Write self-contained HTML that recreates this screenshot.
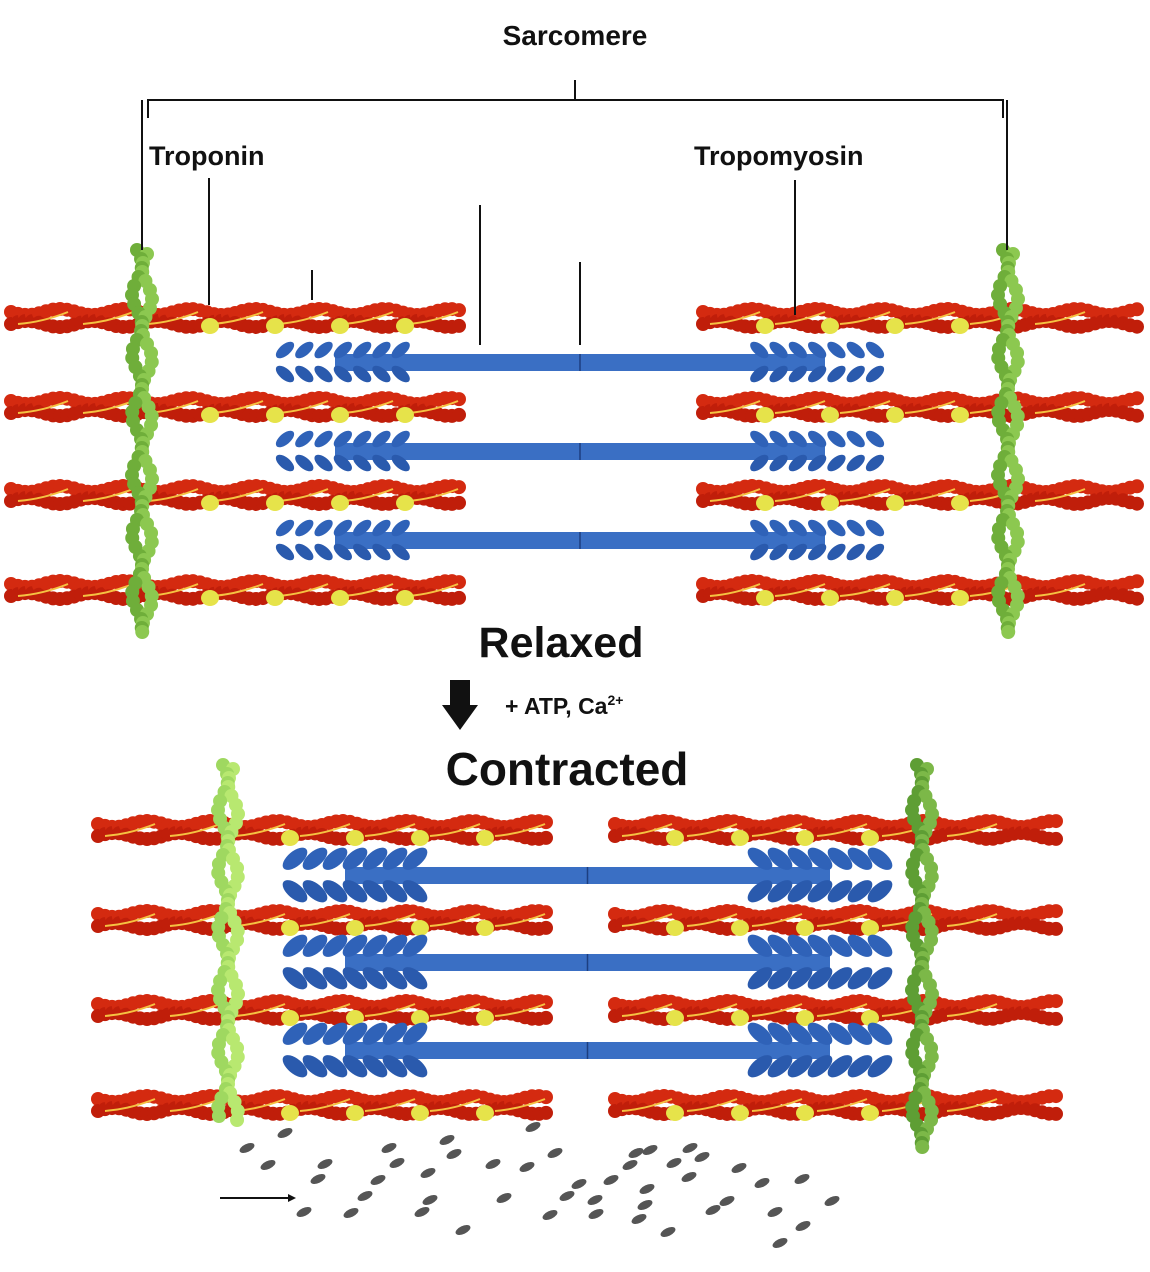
<!DOCTYPE html>
<html><head><meta charset="utf-8"><style>
html,body{margin:0;padding:0;background:#fff;}
svg{display:block}
text{font-family:"Liberation Sans",sans-serif;font-weight:bold;fill:#111}
</style></head><body>
<svg id="s" width="1150" height="1272" viewBox="0 0 1150 1272" xmlns="http://www.w3.org/2000/svg">
<rect width="1150" height="1272" fill="#fff"/>
<g id="g"></g>
<g stroke="#111" stroke-width="2" fill="none">
<path d="M148 118 V100 H1003 V118 M575 100 V80"/>
<path d="M142 100 V250 M1007 100 V250 M209 178 V305 M312 270 V300 M480 205 V345 M580 262 V345 M795 180 V315"/>
<path d="M220 1198 H288"/>
</g>
<polygon points="288,1194 296,1198 288,1202" fill="#111"/>
<text x="575" y="45" font-size="28" text-anchor="middle">Sarcomere</text>
<text x="149" y="165" font-size="27">Troponin</text>
<text x="694" y="165" font-size="27">Tropomyosin</text>
<text x="561" y="657" font-size="43" text-anchor="middle">Relaxed</text>
<polygon points="450,680 470,680 470,705 478,705 460,730 442,705 450,705" fill="#111"/>
<text x="505" y="714" font-size="23">+ ATP, Ca<tspan font-size="14" dy="-9">2+</tspan></text>
<text x="567" y="785" font-size="46" text-anchor="middle">Contracted</text>
</svg>
<script>
var g=document.getElementById('g'),h='';
function actin(x1,x2,y,trop){
  for(var x=x1;x<x2;x+=7){
    var p=(x-x1)/65*2*Math.PI;
    h+='<circle cx="'+(x+3)+'" cy="'+(y-6+3*Math.sin(p))+'" r="7" fill="#d42a10"/>';
    h+='<circle cx="'+(x+3)+'" cy="'+(y+6-3*Math.sin(p))+'" r="7" fill="#c01e0a"/>';
  }
  for(var x=x1;x+60<=x2;x+=65){
    h+='<path d="M'+(x+10)+' '+(y+6)+' Q'+(x+35)+' '+(y+4)+' '+(x+60)+' '+(y-6)+'" stroke="#f5c242" stroke-width="2" fill="none"/>';
  }
  trop.forEach(function(t){h+='<ellipse cx="'+t+'" cy="'+(y+8)+'" rx="9" ry="8" fill="#e6e34a"/>';});
}
function zdisc(x,y1,y2,c1,c2){
  for(var y=y1;y<y2;y+=9){
    var o=5*Math.sin((y-y1)/30*Math.PI);
    h+='<circle cx="'+(x-5+o)+'" cy="'+y+'" r="7" fill="'+c1+'"/>';
    h+='<circle cx="'+(x+5-o)+'" cy="'+(y+4)+'" r="7" fill="'+c2+'"/>';
  }
}
function myosin(x1,x2,y,hl,big){
  var s=big?1.35:1;
  h+='<rect x="'+(x1+60)+'" y="'+(y-8)+'" width="'+(x2-x1-120)+'" height="17" fill="#3a6fc4"/>';
  h+='<line x1="'+((x1+x2)/2)+'" y1="'+(y-8)+'" x2="'+((x1+x2)/2)+'" y2="'+(y+9)+'" stroke="#1d3f80" stroke-width="1.5"/>';
  for(var i=0;i<7;i++){
    var xl=x1+10+i*hl/7, xr=x2-10-i*hl/7;
    [[xl,-1],[xr,1]].forEach(function(a){
      var xx=a[0],d=a[1];
      h+='<ellipse cx="'+xx+'" cy="'+(y-12*s)+'" rx="'+(11*s)+'" ry="'+(5.5*s)+'" fill="#2f62b8" transform="rotate('+(d*40)+' '+xx+' '+(y-12*s)+')"/>';
      h+='<ellipse cx="'+xx+'" cy="'+(y+12*s)+'" rx="'+(11*s)+'" ry="'+(5.5*s)+'" fill="#2a5aad" transform="rotate('+(-d*40)+' '+xx+' '+(y+12*s)+')"/>';
    });
  }
}
[318,407,495,590].forEach(function(y){
  actin(8,460,y,[210,275,340,405]);
  actin(700,1140,y,[765,830,895,960]);
});
[362,451,540].forEach(function(y){myosin(275,885,y,135,false);});
zdisc(142,250,636,'#6fae3a','#8cc850');
zdisc(1008,250,636,'#6fae3a','#8cc850');
[830,920,1010,1105].forEach(function(y){
  actin(95,548,y,[290,355,420,485]);
  actin(612,1055,y,[675,740,805,870]);
});
[875,962,1050].forEach(function(y){myosin(285,890,y,140,true);});
zdisc(228,765,1125,'#9fd860','#b8e870');
zdisc(922,765,1150,'#5e9e34','#7cb848');
var d=[[285,1133],[247,1148],[268,1165],[325,1164],[378,1180],[318,1179],[397,1163],[365,1196],[428,1173],[304,1212],[351,1213],[422,1212],[447,1140],[389,1148],[454,1154],[430,1200],[493,1164],[527,1167],[533,1127],[504,1198],[463,1230],[555,1153],[636,1153],[579,1184],[611,1180],[550,1215],[596,1214],[639,1219],[595,1200],[647,1189],[567,1196],[674,1163],[689,1177],[727,1201],[739,1168],[762,1183],[713,1210],[775,1212],[802,1179],[803,1226],[832,1201],[650,1150],[630,1165],[690,1148],[702,1157],[780,1243],[668,1232],[645,1205]];
d.forEach(function(p){h+='<ellipse cx="'+p[0]+'" cy="'+p[1]+'" rx="8" ry="4" fill="#555" transform="rotate(-25 '+p[0]+' '+p[1]+')"/>';});
g.innerHTML=h;
</script>
</body></html>
